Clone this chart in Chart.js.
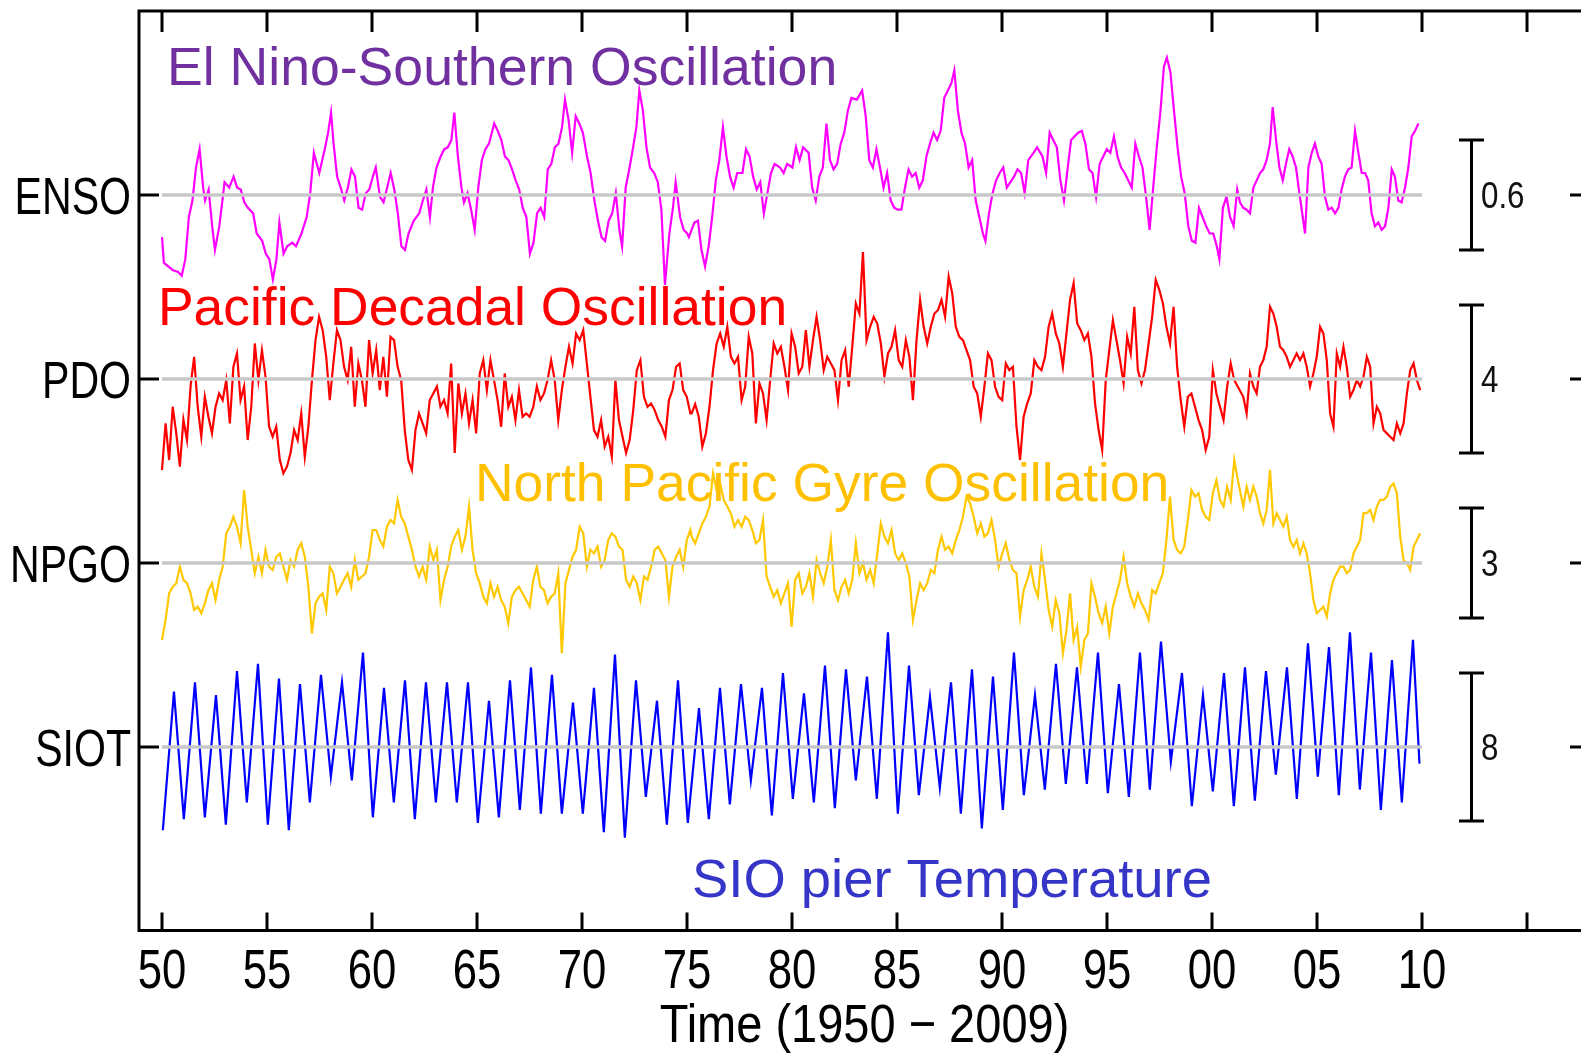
<!DOCTYPE html>
<html>
<head>
<meta charset="utf-8">
<script src="https://cdn.jsdelivr.net/npm/chart.js@4.4.1/dist/chart.umd.min.js"></script>
<style>
  html, body { margin: 0; padding: 0; overflow: hidden; background: #ffffff; }
  canvas { position: absolute; left: 0; top: 0; }
</style>
</head>
<body>
<canvas id="chart" width="1600" height="1055"></canvas>
<script>
// ---------------------------------------------------------------
// Pacific climate indices and the SIO pier temperature, 1950-2009
// ---------------------------------------------------------------

// ENSO index: sample times (decimal years) and values
const ensoYears = [
  1950.00,1950.09,1950.52,1950.77,1950.94,1951.11,1951.28,1951.45,1951.62,1951.79,
  1951.96,1952.05,1952.22,1952.39,1952.52,1952.73,1952.98,1953.20,1953.41,1953.58,
  1953.75,1953.92,1954.09,1954.34,1954.51,1954.77,1954.94,1955.11,1955.28,1955.45,
  1955.59,1955.79,1955.96,1956.21,1956.38,1956.64,1956.89,1957.06,1957.23,1957.49,
  1957.75,1957.91,1958.05,1958.17,1958.34,1958.51,1958.68,1958.85,1959.02,1959.19,
  1959.36,1959.53,1959.70,1959.87,1960.04,1960.18,1960.38,1960.55,1960.72,1960.89,
  1961.06,1961.23,1961.40,1961.57,1961.74,1961.99,1962.25,1962.42,1962.59,1962.76,
  1962.90,1963.07,1963.27,1963.44,1963.61,1963.78,1963.92,1964.09,1964.26,1964.38,
  1964.55,1964.72,1964.89,1965.06,1965.23,1965.40,1965.57,1965.82,1965.99,1966.16,
  1966.33,1966.50,1966.67,1966.84,1967.01,1967.18,1967.35,1967.52,1967.69,1967.86,
  1968.03,1968.20,1968.37,1968.54,1968.71,1968.88,1969.05,1969.19,1969.36,1969.53,
  1969.70,1969.87,1970.04,1970.24,1970.41,1970.59,1970.76,1970.93,1971.10,1971.27,
  1971.44,1971.61,1971.78,1971.91,1972.08,1972.25,1972.42,1972.59,1972.73,1972.90,
  1973.07,1973.24,1973.44,1973.61,1973.78,1973.95,1974.16,1974.33,1974.46,1974.67,
  1974.84,1975.01,
  1975.09,1975.35,1975.52,1975.69,1975.86,1976.03,1976.20,1976.37,1976.54,1976.71,
  1976.88,1977.05,1977.22,1977.39,1977.64,1977.81,1977.98,1978.15,1978.32,1978.49,
  1978.66,1978.83,1979.00,1979.17,1979.43,1979.60,1979.77,1980.02,1980.19,1980.36,
  1980.53,1980.79,1980.96,1981.13,1981.30,1981.47,1981.64,1981.81,1981.98,1982.15,
  1982.32,1982.49,1982.66,1982.83,1983.09,1983.34,1983.51,1983.68,1983.85,1984.02,
  1984.19,1984.36,1984.53,1984.70,1984.87,1985.04,1985.21,1985.38,1985.55,1985.72,
  1985.89,1986.06,1986.23,1986.40,1986.57,1986.74,1986.91,1987.08,1987.25,1987.42,
  1987.59,1987.73,1987.90,1988.07,1988.24,1988.41,1988.58,1988.75,1988.92,1989.09,
  1989.21,1989.38,1989.55,1989.72,1989.89,1990.06,1990.23,1990.40,1990.57,1990.74,
  1990.91,1991.08,1991.25,1991.50,1991.67,1991.93,1992.10,1992.27,1992.44,1992.61,
  1992.78,1992.95,1993.12,1993.29,1993.46,1993.63,1993.80,1993.97,1994.14,1994.31,
  1994.48,1994.65,1994.82,1994.99,1995.16,1995.33,1995.50,1995.67,1995.84,1996.01,
  1996.18,1996.35,1996.52,1996.69,1996.86,1997.03,1997.20,1997.37,1997.54,1997.71,
  1997.85,1998.02,1998.19,1998.36,1998.53,1998.70,1998.87,1999.04,1999.21,1999.38,
  1999.55,1999.72,1999.89,2000.06,2000.23,2000.35,2000.52,2000.69,2000.86,2001.03,
  2001.20,2001.33,2001.49,2001.65,2001.81,2001.97,2002.13,2002.29,2002.44,2002.60,
  2002.76,2002.89,2003.05,2003.21,2003.37,2003.52,2003.68,2003.84,2004.00,2004.16,
  2004.32,2004.43,2004.59,2004.75,2004.90,2005.06,2005.22,2005.38,2005.54,2005.70,
  2005.86,2006.02,2006.17,2006.33,2006.49,2006.65,2006.81,2006.97,2007.13,2007.29,
  2007.44,2007.60,2007.76,2007.92,2008.08,2008.24,2008.40,2008.56,2008.71,2008.87,
  2009.03,2009.19,2009.35,2009.51,2009.67,2009.83
];
const ensoValues = [
  -0.23,-0.37,-0.41,-0.42,-0.44,-0.35,-0.12,-0.03,0.15,0.25,
  0.04,-0.03,0.03,-0.17,-0.30,-0.17,0.07,0.04,0.10,0.04,
  0.03,-0.04,-0.07,-0.10,-0.21,-0.25,-0.32,-0.35,-0.46,-0.35,
  -0.15,-0.32,-0.28,-0.26,-0.28,-0.21,-0.12,0.01,0.23,0.12,
  0.25,0.34,0.45,0.28,0.10,0.04,-0.03,0.04,0.14,0.10,
  -0.07,-0.08,0.01,0.03,0.10,0.15,-0.01,-0.04,0.04,0.12,
  0.03,-0.10,-0.28,-0.30,-0.21,-0.14,-0.10,-0.03,0.03,-0.12,
  0.04,0.15,0.21,0.25,0.26,0.30,0.45,0.21,0.04,-0.04,
  0.01,-0.08,-0.19,0.04,0.19,0.25,0.28,0.39,0.35,0.30,
  0.21,0.19,0.14,0.08,0.03,-0.07,-0.12,-0.32,-0.26,-0.10,
  -0.07,-0.12,0.14,0.17,0.26,0.28,0.37,0.52,0.41,0.23,
  0.43,0.39,0.34,0.21,0.12,-0.03,-0.14,-0.23,-0.25,-0.14,
  -0.10,0.01,-0.19,-0.28,0.04,0.14,0.25,0.37,0.57,0.46,
  0.26,0.15,0.12,0.07,-0.08,-0.49,-0.21,-0.07,0.07,-0.12,
  -0.19,-0.21,
  -0.23,-0.15,-0.14,-0.30,-0.39,-0.28,-0.12,0.08,0.19,0.37,
  0.21,0.10,0.04,0.12,0.12,0.25,0.21,0.10,0.03,0.07,
  -0.10,0.01,0.12,0.17,0.15,0.12,0.17,0.15,0.26,0.19,
  0.26,0.23,0.04,-0.03,0.10,0.15,0.39,0.19,0.14,0.17,
  0.28,0.34,0.46,0.53,0.52,0.57,0.43,0.19,0.15,0.25,
  0.15,0.04,0.12,-0.03,-0.07,-0.08,-0.08,0.04,0.14,0.10,
  0.12,0.04,0.08,0.21,0.28,0.34,0.30,0.35,0.53,0.57,
  0.61,0.68,0.46,0.34,0.28,0.15,0.19,-0.03,-0.12,-0.21,
  -0.25,-0.10,0.01,0.08,0.12,0.15,0.04,0.07,0.10,0.14,
  0.12,0.01,0.19,0.23,0.26,0.21,0.12,0.34,0.30,0.26,
  0.08,-0.03,0.14,0.30,0.32,0.34,0.35,0.28,0.14,0.12,
  -0.01,0.17,0.21,0.25,0.23,0.32,0.21,0.15,0.12,0.08,
  0.04,0.28,0.21,0.15,-0.01,-0.19,0.04,0.26,0.45,0.70,
  0.75,0.67,0.46,0.26,0.10,0.01,-0.17,-0.25,-0.26,-0.07,
  -0.12,-0.17,-0.21,-0.21,-0.28,-0.35,-0.07,-0.01,-0.12,-0.17,
  0.03,-0.04,-0.07,-0.08,-0.10,0.04,0.08,0.12,0.14,0.19,
  0.28,0.48,0.30,0.15,0.08,0.17,0.25,0.21,0.15,0.01,
  -0.12,-0.21,0.15,0.23,0.28,0.21,0.17,-0.01,-0.08,-0.07,
  -0.10,-0.07,0.03,0.10,0.14,0.15,0.35,0.23,0.12,0.12,
  0.08,-0.10,-0.17,-0.15,-0.19,-0.17,-0.07,0.14,0.10,-0.03,
  -0.04,0.04,0.15,0.32,0.35,0.39
];

// PDO and NPGO share one sampling: blocks of [first year, step (years), count]
const oscSampling = [[1950.00, 0.170, 149], [1975.22, 0.170, 154], [2001.49, 0.159, 54]];

const pdoValues = [
  -2.46,-1.20,-2.19,-0.75,-1.47,-2.37,-1.10,-1.65,-0.20,0.60,
  -0.75,-1.56,-0.48,-1.02,-1.47,-0.75,-0.39,-0.57,-0.03,-1.20,
  0.33,0.69,-0.57,-0.20,-1.65,-0.75,0.96,-0.03,0.78,0.06,
  -1.29,-1.56,-1.29,-2.19,-2.55,-2.37,-2.00,-1.38,-1.65,-0.93,
  -2.10,-1.29,-0.03,1.05,1.68,1.32,0.60,-0.57,0.42,1.32,
  1.05,0.33,-0.03,0.87,-0.75,0.42,-0.03,-0.75,1.05,0.15,
  0.78,-0.30,0.60,-0.48,1.14,1.05,0.33,-0.03,-1.38,-2.19,
  -2.46,-1.38,-0.93,-1.20,-1.47,-0.57,-0.39,-0.20,-0.75,-0.57,
  -0.93,0.42,-2.00,-0.12,-0.93,-0.39,-1.20,-0.57,-1.47,0.15,
  0.51,-0.30,0.51,-0.03,-0.57,-1.29,0.15,-0.75,-0.48,-1.11,
  -0.30,-1.02,-0.93,-1.02,-0.75,-0.20,-0.57,-0.39,-0.03,0.51,
  -0.03,-1.11,-0.30,0.33,0.87,0.42,1.23,1.05,1.32,0.42,
  -0.48,-1.38,-1.56,-1.11,-1.83,-1.56,-2.10,-0.03,-1.11,-1.56,
  -2.00,-1.65,-0.84,0.24,0.51,-0.48,-0.75,-0.66,-0.84,-1.11,
  -1.29,-1.56,-0.57,-0.30,0.33,0.42,-0.30,-0.48,-0.93,
  -0.93,-0.68,-1.02,-1.83,-1.47,-0.75,0.24,0.96,1.23,0.87,
  1.41,0.60,0.42,0.60,-0.57,-0.21,1.14,0.69,-1.20,-0.12,
  -0.39,-1.11,-0.03,0.96,0.69,0.87,0.33,-0.30,1.23,0.87,
  0.15,0.33,1.32,0.33,1.05,1.68,1.05,0.24,0.60,0.42,
  0.24,-0.57,0.51,0.78,-0.21,0.87,2.04,1.77,
  3.43,1.05,1.41,1.68,1.50,0.96,0.06,0.69,0.87,1.32,
  0.51,0.33,1.05,0.60,-0.57,1.05,2.14,1.41,0.96,1.41,
  1.77,1.86,2.14,1.68,2.77,2.32,1.41,1.14,1.05,0.78,
  0.51,-0.21,-0.39,-1.02,-0.21,0.69,0.51,-0.21,-0.48,-0.57,
  0.42,0.24,0.33,-1.29,-2.19,-1.02,-0.66,-0.39,0.51,0.33,
  0.24,0.60,1.41,1.77,1.23,0.96,0.33,1.23,2.14,2.59,
  1.50,1.32,1.05,1.23,0.60,-0.66,-1.38,-1.92,-0.03,0.78,
  1.59,1.05,0.51,-0.12,1.14,0.69,1.95,0.24,-0.12,0.24,
  0.96,1.68,2.68,2.41,2.05,1.41,0.96,1.95,0.33,-0.57,
  -1.29,-0.48,-0.39,-0.75,-1.11,-1.38,-1.92,-1.56,0.24,-0.39,
  -0.75,-1.11,-0.21,0.42,-0.03,-0.21,
  -0.48,-0.93,0.15,-0.20,-0.39,0.33,0.51,0.87,1.95,1.77,
  1.41,0.87,0.78,0.60,0.33,0.51,0.69,0.51,0.69,0.33,
  -0.20,0.15,0.60,1.41,1.23,0.51,-0.93,-1.29,0.69,0.33,
  0.87,0.33,-0.48,-0.30,-0.03,-0.20,0.06,0.60,0.33,-1.20,
  -0.75,-0.93,-1.38,-1.47,-1.56,-1.65,-1.20,-1.47,-1.20,-0.39,
  0.24,0.42,-0.03,-0.30
];

const npgoValues = [
  -2.10,-1.55,-0.83,-0.65,-0.55,-0.10,-0.46,-0.55,-0.83,-1.28,
  -1.19,-1.37,-1.10,-0.74,-0.55,-1.01,-0.46,-0.10,0.81,0.99,
  1.26,0.99,0.54,1.99,0.99,0.36,-0.28,0.17,-0.28,0.36,
  -0.10,-0.19,0.17,0.26,-0.10,-0.46,0.08,-0.10,0.36,0.54,
  0.17,-0.65,-1.92,-1.10,-0.92,-0.83,-1.28,-0.10,-0.28,-0.83,
  -0.65,-0.46,-0.28,-0.65,0.08,-0.46,-0.37,-0.28,0.17,0.90,
  0.90,0.63,0.45,0.99,1.17,1.08,1.72,1.26,1.08,0.72,
  0.36,-0.10,-0.37,-0.10,-0.46,0.45,0.08,0.36,-1.01,-0.46,
  -0.10,0.45,0.72,0.90,0.36,0.72,1.54,0.36,-0.28,-0.55,
  -0.92,-1.10,-0.55,-0.92,-0.65,-1.01,-1.19,-1.64,-0.92,-0.74,
  -0.65,-0.83,-1.01,-1.19,-0.46,-0.10,-0.65,-0.74,-1.10,-0.92,
  -0.83,-0.28,-2.46,-0.55,-0.19,0.17,0.36,0.99,0.81,-0.10,
  0.36,0.26,0.45,-0.10,0.08,0.63,0.81,0.72,0.45,0.36,
  -0.46,-0.65,-0.37,-0.55,-1.01,-0.37,-0.46,-0.10,0.36,0.45,
  0.26,0.08,-0.92,-0.10,0.17,0.36,-0.10,0.63,0.90,
  0.72,0.54,0.81,1.08,1.26,1.54,2.45,1.99,2.17,1.72,
  1.54,1.35,0.99,1.17,0.99,1.26,1.17,0.90,0.54,0.63,
  1.17,-0.37,-0.65,-0.92,-0.74,-1.10,-0.83,-0.55,-1.74,-0.46,
  -0.28,-0.83,-0.65,-0.28,-0.92,0.08,-0.28,-0.55,-0.10,0.63,
  -0.74,-1.01,-0.65,-0.46,-0.83,-0.46,0.54,-0.28,0.00,-0.46,
  -0.19,-0.55,0.26,1.08,0.72,0.54,0.90,0.26,0.08,0.26,
  0.00,-0.37,-1.55,-1.01,-0.55,-0.74,-0.55,-0.19,-0.28,0.36,
  0.72,0.36,0.45,0.26,0.63,0.90,1.26,1.81,1.63,1.26,
  0.81,1.08,0.72,0.81,1.17,0.63,-0.10,0.26,0.54,0.08,
  -0.19,-0.28,-1.46,-0.74,-0.46,-0.10,-0.65,-0.92,0.26,-0.46,
  -1.28,-1.74,-1.01,-1.37,-2.46,-1.83,-0.83,-2.10,-1.74,-2.83,
  -2.10,-1.92,-0.55,-0.92,-1.37,-1.64,-1.19,-1.92,-1.19,-0.83,
  -0.46,0.17,-0.55,-0.92,-1.19,-0.83,-1.10,-1.28,-1.55,-0.74,
  -0.83,-0.55,-0.28,0.63,1.81,0.63,0.36,0.26,0.45,1.17,
  1.99,1.81,1.90,1.45,1.26,1.17,1.90,2.26,1.72,1.54,
  2.08,1.72,2.81,2.26,
  1.54,2.08,1.72,2.08,1.81,1.36,1.08,1.45,2.54,1.08,
  1.36,1.17,0.99,1.26,0.63,0.44,0.63,0.26,0.54,0.26,
  -0.28,-1.01,-1.37,-1.28,-1.19,-1.46,-0.83,-0.46,-0.28,-0.10,
  -0.10,-0.28,-0.19,0.26,0.44,0.63,1.36,1.36,1.45,1.17,
  1.54,1.72,1.72,1.81,2.08,2.17,1.90,0.72,0.08,-0.01,
  -0.19,0.44,0.63,0.81
];

// SIO pier temperature anomaly (deg C): yearly winter low and late-summer high
const sioYears = [
  1950,1951,1952,1953,1954,1955,1956,1957,1958,1959,
  1960,1961,1962,1963,1964,1965,1966,1967,1968,1969,
  1970,1971,1972,1973,1974,1975,1976,1977,1978,1979,
  1980,1981,1982,1983,1984,1985,1986,1987,1988,1989,
  1990,1991,1992,1993,1994,1995,1996,1997,1998,1999,
  2000,2001,2002,2003,2004,2005,2006,2007,2008,2009
];
const sioWinterLow = [
  -4.5,-3.9,-3.8,-4.2,-3.0,-4.2,-4.5,-3.0,-1.6,-1.8,
  -3.8,-3.0,-3.9,-3.0,-3.0,-4.1,-3.8,-3.4,-3.6,-3.6,
  -3.6,-4.6,-4.9,-2.7,-4.2,-4.1,-3.9,-3.1,-1.8,-3.7,
  -2.8,-3.0,-3.3,-1.8,-2.8,-3.6,-2.6,-2.2,-3.6,-4.4,
  -3.4,-2.6,-2.3,-2.0,-2.0,-2.5,-2.7,-2.3,-0.8,-3.2,
  -2.4,-3.2,-2.9,-1.5,-2.8,-1.6,-2.6,-2.3,-3.4,-3.0
];
const sioSummerHigh = [
  3.0,3.5,2.8,4.1,4.5,3.7,3.4,3.9,3.5,5.1,
  3.2,3.6,3.5,3.5,3.5,2.5,3.6,4.3,3.9,2.4,
  3.2,5.0,3.6,2.5,3.6,2.1,3.2,3.4,3.2,4.0,
  2.9,4.4,4.2,3.8,6.2,4.4,2.7,3.5,4.2,3.8,
  5.1,2.8,4.5,4.3,5.1,3.4,5.1,5.7,4.0,2.8,
  4.0,4.3,4.1,4.3,5.6,5.4,6.2,5.1,4.7,5.8
];
const sioDec2009 = -0.9;

// axis furniture
const tickYears  = [1950,1955,1960,1965,1970,1975,1980,1985,1990,1995,2000,2005,2010,2015];
const tickLabels = ['50','55','60','65','70','75','80','85','90','95','00','05','10',''];
const seriesNames  = ['ENSO', 'PDO', 'NPGO', 'SIOT'];
const seriesTitles = ['El Nino-Southern Oscillation', 'Pacific Decadal Oscillation',
                      'North Pacific Gyre Oscillation', 'SIO pier Temperature'];
const scaleBarValues = [0.6, 4, 3, 8];
const xAxisTitle = 'Time (1950 \u2212 2009)';

// ---------------------------------------------------------------
// layout and styling
// ---------------------------------------------------------------
const FONT = '"Liberation Sans", Arial, Helvetica, sans-serif';
const plotTop = 11, plotBottom = 930.5, plotLeft = 139, plotRight = 1590;
const lineColors  = ['#ff00ff', '#ff0000', '#ffc800', '#0000ff'];
const titleColors = ['#7030a0', '#ff0000', '#ffc000', '#3535c8'];
// each trace sits on its own baseline; the bar length sets the vertical gain
const bands = [
  { axis: 'yEnso', zeroY: 195, barPx: 110 },
  { axis: 'yPdo',  zeroY: 379, barPx: 148 },
  { axis: 'yNpgo', zeroY: 563, barPx: 110 },
  { axis: 'ySiot', zeroY: 747, barPx: 148 }
];
const titlePlacement = [
  { x: 167, y: 85, size: 53.6 }, { x: 158, y: 325, size: 53.4 },
  { x: 475, y: 501, size: 53.4 }, { x: 692, y: 897, size: 54.4 }
];

function bandAxis(band, barValue) {
  const k = band.barPx / barValue;
  return {
    type: 'linear', display: false,
    min: -(plotBottom - band.zeroY) / k,
    max: (band.zeroY - plotTop) / k
  };
}

function timesFromBlocks(blocks) {
  const t = [];
  blocks.forEach(([start, step, count]) => {
    for (let i = 0; i < count; i++) t.push(+(start + i * step).toFixed(3));
  });
  return t;
}

const oscTimes = timesFromBlocks(oscSampling);
const ensoData = ensoYears.map((t, i) => ({ x: t, y: ensoValues[i] }));
const pdoData  = pdoValues.map((v, i) => ({ x: oscTimes[i], y: v }));
const npgoData = npgoValues.map((v, i) => ({ x: oscTimes[i], y: v }));
const sioData = [];
sioYears.forEach((yr, i) => {
  sioData.push({ x: yr + 0.04, y: sioWinterLow[i] });
  sioData.push({ x: yr + 0.57, y: sioSummerHigh[i] });
});
sioData.push({ x: 2009.88, y: sioDec2009 });

function drawText(ctx, text, x, y, size, scaleX, align, color) {
  ctx.save();
  ctx.font = size + 'px ' + FONT;
  ctx.fillStyle = color;
  ctx.textAlign = align;
  ctx.textBaseline = 'alphabetic';
  ctx.translate(x, y);
  ctx.scale(scaleX, 1);
  ctx.fillText(text, 0, 0);
  ctx.restore();
}

function line(ctx, x1, y1, x2, y2) {
  ctx.beginPath();
  ctx.moveTo(x1, y1);
  ctx.lineTo(x2, y2);
  ctx.stroke();
}

// frame, inward ticks, baselines, scale bars and all labels
const furniture = {
  id: 'furniture',
  afterDatasetsDraw(chart) {
    const { ctx, chartArea: a, scales } = chart;
    const xs = scales.x;
    ctx.save();

    // zero baselines over the traces
    ctx.strokeStyle = '#c8c8c8';
    ctx.lineWidth = 3.5;
    bands.forEach(b => {
      const y = scales[b.axis].getPixelForValue(0);
      line(ctx, xs.getPixelForValue(1950), y, xs.getPixelForValue(2010), y);
    });

    // frame
    ctx.strokeStyle = '#000';
    ctx.lineWidth = 3;
    ctx.lineCap = 'butt';
    ctx.strokeRect(a.left, a.top, a.right - a.left, a.bottom - a.top);

    // inward ticks: years on top and bottom, baselines on left and right
    tickYears.forEach(yr => {
      const x = xs.getPixelForValue(yr);
      line(ctx, x, a.top, x, a.top + 21);
      line(ctx, x, a.bottom, x, a.bottom - 18);
    });
    bands.forEach(b => {
      const y = scales[b.axis].getPixelForValue(0);
      line(ctx, a.left, y, a.left + 20, y);
      line(ctx, a.right, y, a.right - 20, y);
    });

    // scale bars
    bands.forEach((b, i) => {
      const ys = scales[b.axis];
      const yTop = ys.getPixelForValue(scaleBarValues[i] / 2);
      const yBot = ys.getPixelForValue(-scaleBarValues[i] / 2);
      const xb = 1471.5;
      line(ctx, xb, yTop, xb, yBot);
      line(ctx, xb - 12.5, yTop, xb + 12.5, yTop);
      line(ctx, xb - 12.5, yBot, xb + 12.5, yBot);
      drawText(ctx, String(scaleBarValues[i]), 1481, ys.getPixelForValue(0) + 13, 36, 0.87, 'left', '#111');
    });

    // series names on the left
    bands.forEach((b, i) => {
      const y = scales[b.axis].getPixelForValue(0);
      drawText(ctx, seriesNames[i], 131, y + 18.5, 52, 0.79, 'right', '#000');
    });

    // year labels and axis title
    tickYears.forEach((yr, i) => {
      if (tickLabels[i]) drawText(ctx, tickLabels[i], xs.getPixelForValue(yr), 988, 56, 0.78, 'center', '#000');
    });
    drawText(ctx, xAxisTitle, (a.left + a.right) / 2, 1042, 54, 0.87, 'center', '#000');

    // coloured series titles
    seriesTitles.forEach((t, i) => {
      const p = titlePlacement[i];
      drawText(ctx, t, p.x, p.y, p.size, 1, 'left', titleColors[i]);
    });

    ctx.restore();
  }
};

function traceDataset(label, data, color, axis) {
  return {
    label, data, yAxisID: axis,
    borderColor: color, backgroundColor: color,
    borderWidth: 2.2, pointRadius: 0, tension: 0, fill: false
  };
}

new Chart(document.getElementById('chart'), {
  type: 'line',
  data: {
    datasets: [
      traceDataset('ENSO', ensoData, lineColors[0], 'yEnso'),
      traceDataset('PDO',  pdoData,  lineColors[1], 'yPdo'),
      traceDataset('NPGO', npgoData, lineColors[2], 'yNpgo'),
      traceDataset('SIOT', sioData,  lineColors[3], 'ySiot')
    ]
  },
  options: {
    responsive: false,
    animation: false,
    devicePixelRatio: 1,
    layout: { padding: { left: plotLeft, top: plotTop, right: 1600 - plotRight, bottom: 1055 - plotBottom } },
    plugins: { legend: { display: false }, tooltip: { enabled: false } },
    scales: {
      x: { type: 'linear', display: false, min: 1950 - (162 - plotLeft) / 21, max: 1950 + (plotRight - 162) / 21 },
      yEnso: bandAxis(bands[0], scaleBarValues[0]),
      yPdo:  bandAxis(bands[1], scaleBarValues[1]),
      yNpgo: bandAxis(bands[2], scaleBarValues[2]),
      ySiot: bandAxis(bands[3], scaleBarValues[3])
    }
  },
  plugins: [furniture]
});
</script>
</body>
</html>
